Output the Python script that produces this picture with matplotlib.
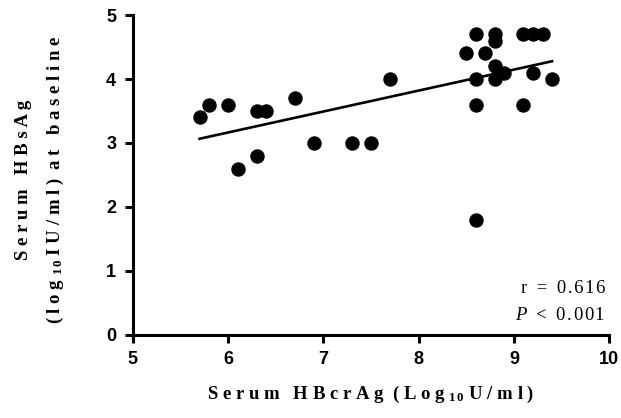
import numpy as np
import matplotlib
matplotlib.use("Agg")
from matplotlib import pyplot as plt

plt.rcParams["mathtext.fontset"] = "custom"
plt.rcParams["mathtext.bf"] = "Liberation Serif:bold"
plt.rcParams["mathtext.rm"] = "Liberation Serif"
plt.rcParams["mathtext.it"] = "Liberation Serif:italic"

# HBcrAg (log10 U/ml) vs HBsAg (log10 IU/ml) at baseline
hbcrag = [5.7, 5.8, 6.0, 6.1, 6.3, 6.3, 6.4, 6.7, 6.9, 7.3, 7.5, 7.7,
          8.5, 8.6, 8.6, 8.6, 8.6, 8.7, 8.8, 8.8, 8.8, 8.8, 8.9,
          9.1, 9.2, 9.3, 9.1, 9.2, 9.4]
hbsag = [3.4, 3.6, 3.6, 2.6, 2.8, 3.5, 3.5, 3.7, 3.0, 3.0, 3.0, 4.0,
         4.4, 4.7, 4.0, 3.6, 1.8, 4.4, 4.7, 4.6, 4.2, 4.0, 4.1,
         4.7, 4.7, 4.7, 3.6, 4.1, 4.0]
r_text = "r = 0.616"
p_text = "< 0.001"

x = np.array(hbcrag)
y = np.array(hbsag)
slope, icpt = np.polyfit(x, y, 1)
xl = np.array([x.min(), x.max()])

fig = plt.figure(figsize=(6.21, 4.18), dpi=100)
ax = fig.add_axes([0.214, 0.199, 0.767, 0.765])

ax.scatter(x, y, s=88, color="black", zorder=3, clip_on=False)
ax.plot(xl, slope * xl + icpt, color="black", lw=1.9, zorder=2)

ax.set_xlim(5, 10)
ax.set_ylim(0, 5)
ax.set_xticks([5, 6, 7, 8, 9, 10])
ax.set_yticks([0, 1, 2, 3, 4, 5])
for s in ["top", "right"]:
    ax.spines[s].set_visible(False)
for s in ["left", "bottom"]:
    ax.spines[s].set_linewidth(2.2)
ax.tick_params(direction="out", length=6, width=2.2, pad=6)
for lab in ax.get_xticklabels() + ax.get_yticklabels():
    lab.set_fontfamily("Liberation Sans")
    lab.set_fontweight("bold")
    lab.set_fontsize(13)

# wide letter tracking like the original figure
gap = " "
def spaced(t):
    return "   ".join(gap.join(w) for w in t.split(" "))

sub10 = r"$_{\mathbf{1\,0}}$"
serif = ["Liberation Serif", "DejaVu Serif"]
ax.set_xlabel(spaced("Serum HBcrAg") + "  " + spaced("(Log") + gap
              + sub10 + gap + spaced("U/ml)"),
              family=serif, fontweight="bold", fontsize=13.5, labelpad=11)
fig.text(0.038, 0.569, spaced("Serum HBsAg"),
         rotation=90, ha="center", va="center",
         family=serif, fontweight="bold", fontsize=13.5)
fig.text(0.090, 0.569, spaced("(log") + gap + sub10 + gap
         + spaced("IU/ml)") + "  " + spaced("at baseline"),
         rotation=90, ha="center", va="center",
         family=serif, fontweight="bold", fontsize=13.5)

hs = "\u200a"
ax.text(9.96, 0.73, r_text.replace("0.616", hs.join("0.616")).replace(" = ", "  =  "),
        ha="right", va="center", family=serif, fontsize=13.5)
ax.text(9.96, 0.30, r"$\mathit{P}$  " + p_text.replace("< ", "<  ").replace("0.001", hs.join("0.001")),
        ha="right", va="center", family=serif, fontsize=13.5)

fig.savefig("out.png", dpi=100)
